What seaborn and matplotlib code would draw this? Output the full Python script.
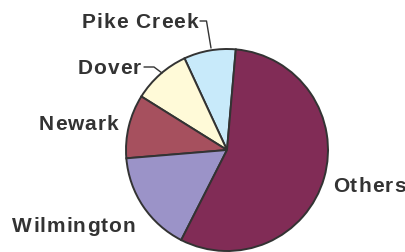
import matplotlib
matplotlib.use("Agg")
import matplotlib.pyplot as plt
import seaborn as sns

labels = ["Pike Creek", "Dover", "Newark", "Wilmington", "Others"]
values = [8.3, 9.2, 10.2, 16.2, 56.1]
colors = ["#C8EAFA", "#FFFAD8", "#A6505E", "#9B93C8", "#812C56"]

sns.set_style("white")
plt.rcParams["font.family"] = ["Liberation Sans", "DejaVu Sans"]

fig = plt.figure(figsize=(4.06, 2.52), dpi=100)
ax = fig.add_axes([0, 0, 1, 1])

CX, CY, R = 227, 150, 101
def px(x, y):
    return ((x - CX) / R, (CY - y) / R)

ax.pie(values, colors=colors, startangle=85, counterclock=True,
       wedgeprops=dict(edgecolor="#333333", linewidth=1.4),
       radius=1.0, center=(0, 0))

x0, y0 = px(0, 0)
x1, y1 = px(406, 252)
ax.set_xlim(x0, x1)
ax.set_ylim(y1, y0)
ax.set_aspect("auto")
ax.axis("off")

tcol = "#333333"
fs = 15
kw = dict(fontsize=fs, fontweight="bold", color=tcol)
renderer = fig.canvas.get_renderer()

def width_px(s):
    t = fig.text(0, 0, s, **kw)
    w = t.get_window_extent(renderer).width
    t.remove()
    return w

bar_w = width_px("|")

def label(text, x, y, ha, spacing=1.0):
    n = len(text)
    offs = [width_px(text[:i] + "|") - bar_w if i > 0 else 0.0 for i in range(n)]
    total = width_px(text) + spacing * (n - 1)
    left = x - total if ha == "right" else x
    for i, ch in enumerate(text):
        if ch == " ":
            continue
        tx, ty = px(left + offs[i] + spacing * i, y)
        ax.text(tx, ty, ch, ha="left", va="baseline", **kw)

for name, (x, y, ha) in zip(labels, [(198, 27.5, "right"), (141, 74, "right"),
                                      (118, 130, "right"), (135, 232, "right"),
                                      (333, 192, "left")]):
    label(name, x, y, ha)

# leader lines
lx, ly = zip(px(200, 21), px(206.5, 21), px(211, 48))
ax.plot(lx, ly, color=tcol, lw=1.0)
lx, ly = zip(px(144, 67), px(154, 67), px(162, 73))
ax.plot(lx, ly, color=tcol, lw=1.0)

fig.savefig("out.png", dpi=100)
